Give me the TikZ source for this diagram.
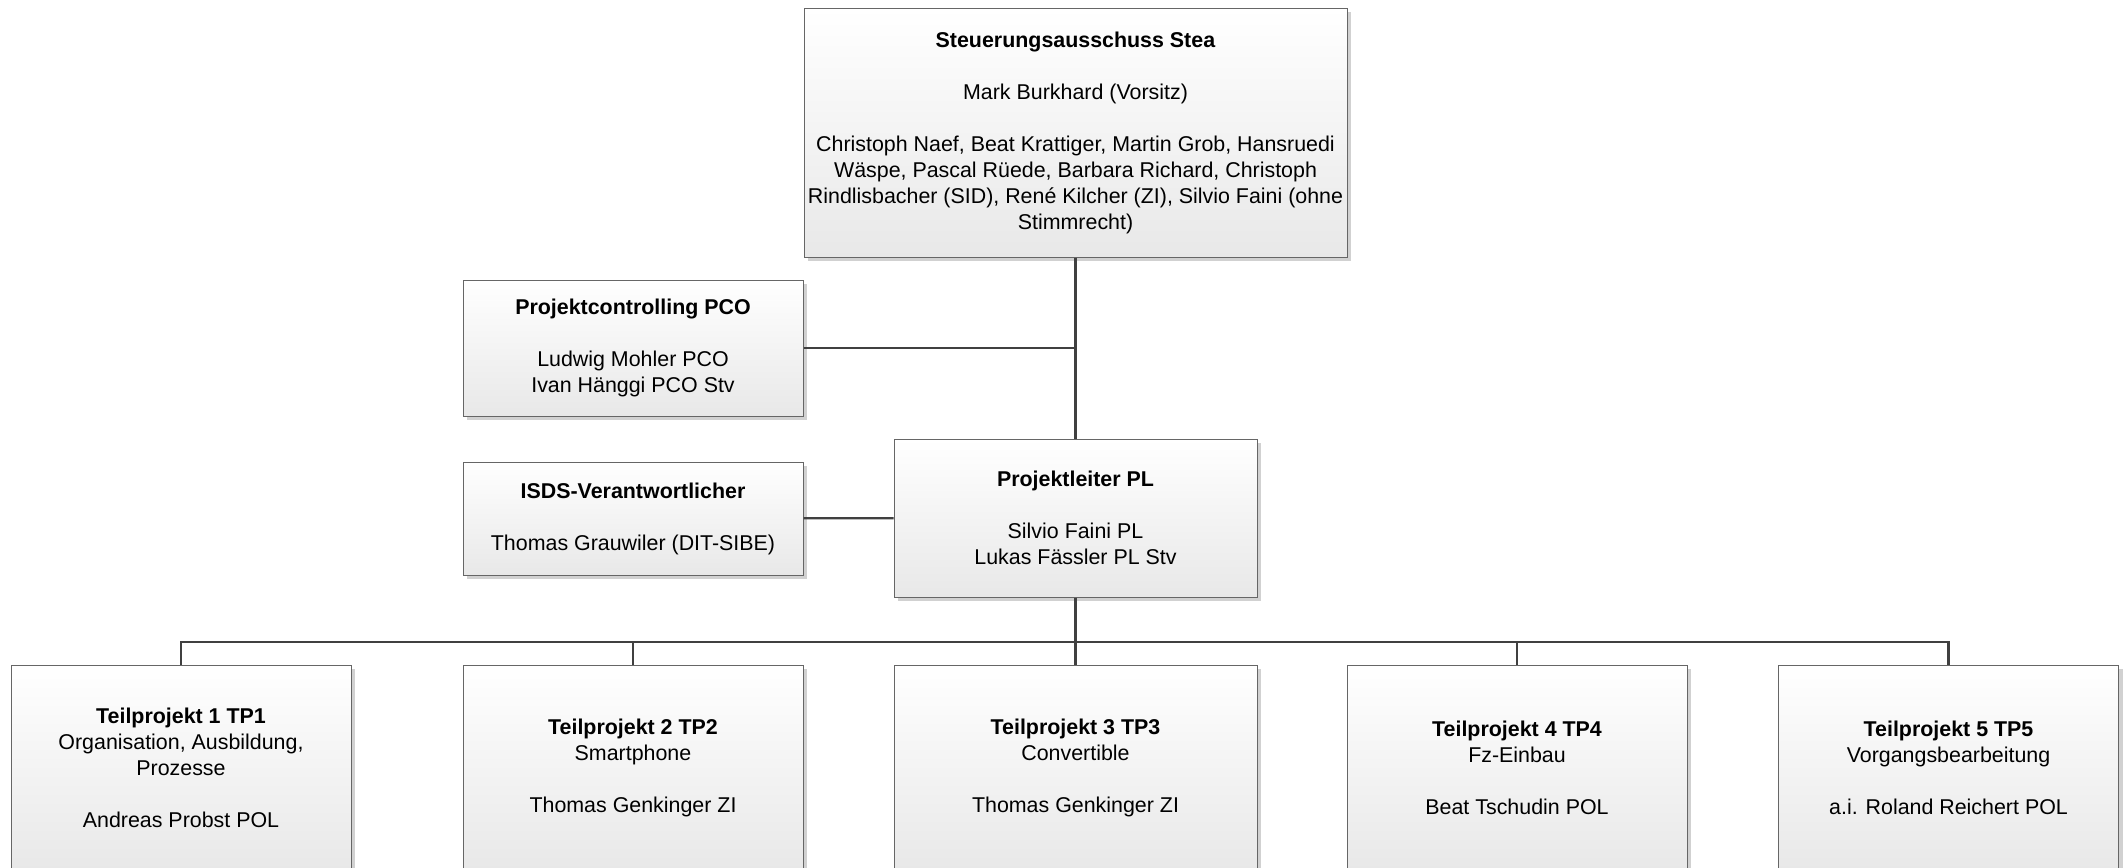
\documentclass[tikz,border=0pt]{standalone}
\usepackage{fontspec}
\setmainfont{Liberation Sans}
\usepackage{tikz}
\usetikzlibrary{
	calc,
	positioning,
	shadows,
}
\newcommand{\orgfont}{\fontsize{10.7pt}{13pt}\selectfont}
\tikzset{org box/.style={draw=black!60,line width=0.5pt,top color=white,bottom color=black!9,drop shadow={shadow xshift=2pt,shadow yshift=-2pt,fill=black!18,opacity=1},align=center,inner sep=0pt,font=\orgfont,}}
\tikzset{side box/.style={org box,minimum width=170pt,}}
\tikzset{lead box/.style={org box,minimum width=181.5pt,}}
\tikzset{tp box/.style={org box,minimum height=102.5pt,}}
\tikzset{link/.style={draw=black!75,line width=1.1pt,}}
\tikzset{
	x=0.5pt,
	y=-0.5pt,
}

\begin{document}
\begin{tikzpicture}
\useasboundingbox (0,0) rectangle (2123,867);
\fill[white] (0,0) rectangle (2123,867);

\node[org box,minimum width=271.5pt,minimum height=124.5pt](stea) at(1075.5,132.5) {\textbf{Steuerungsausschuss Stea}\\[13pt]Mark Burkhard (Vorsitz)\\[13pt]Christoph Naef, Beat Krattiger, Martin Grob, Hansruedi\\Wäspe, Pascal Rüede, Barbara Richard, Christoph\\Rindlisbacher (SID), René Kilcher (ZI), Silvio Faini (ohne\\Stimmrecht)};

\node[side box,minimum height=68pt](pco) at(633,348) {\textbf{Projektcontrolling PCO}\\[13pt]Ludwig Mohler PCO\\Ivan Hänggi PCO Stv};
\node[side box,minimum height=56.5pt](isds) at(633,518.5) {\textbf{ISDS-Verantwortlicher}\\[13pt]Thomas Grauwiler (DIT-SIBE)};
\node[lead box,minimum height=79pt](pl) at(1075.5,518) {\textbf{Projektleiter PL}\\[13pt]Silvio Faini PL\\Lukas Fässler PL Stv};

\node[side box,tp box](tp1) at(181,767.5) {\textbf{Teilprojekt 1 TP1}\\Organisation, Ausbildung,\\Prozesse\\[13pt]Andreas Probst POL};
\node[side box,tp box](tp2) at(633,767.5) {\textbf{Teilprojekt 2 TP2}\\Smartphone\\[13pt]Thomas Genkinger ZI};
\node[lead box,tp box](tp3) at(1075.5,767.5) {\textbf{Teilprojekt 3 TP3}\\Convertible\\[13pt]Thomas Genkinger ZI};
\node[side box,tp box](tp4) at(1517,767.5) {\textbf{Teilprojekt 4 TP4}\\Fz-Einbau\\[13pt]Beat Tschudin POL};
\node[side box,tp box](tp5) at(1948.5,767.5) {\textbf{Teilprojekt 5 TP5}\\Vorgangsbearbeitung\\[13pt]a.i. Roland Reichert POL};

\coordinate(bus) at(1075.5,642);

\draw[link] (stea) -- (pl);
\draw[link] (pco) -- (pco -| stea);
\draw[link] (isds) -- (pl);
\draw[link] (pl) -- (tp3);
\foreach \t in {tp1,tp2,tp4,tp5}
	\draw[link] (\t.north) |- (bus);

\end{tikzpicture}
\end{document}
